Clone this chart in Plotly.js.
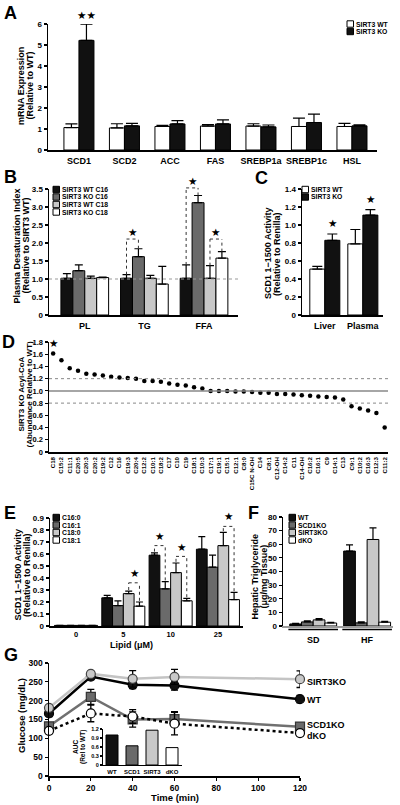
<!DOCTYPE html>
<html><head><meta charset="utf-8">
<script src="https://cdn.plot.ly/plotly-3.0.1.min.js"></script>
<style>body{margin:0;background:#fff}#chart{width:400px;height:805px}</style>
</head><body><div id="chart"></div>
<script>
// ---------- DATA ----------
// Panel A
const aGenes = ['SCD1','SCD2','ACC','FAS','SREBP1a','SREBP1c','HSL'];
const aWT    = [1.07,1.05,1.12,1.14,1.14,1.12,1.12];
const aWTerr = [0.17,0.20,0.05,0.07,0.11,0.40,0.15];
const aKO    = [5.22,1.15,1.24,1.24,1.10,1.31,1.15];
const aKOerr = [0.77,0.12,0.16,0.19,0.09,0.40,0.05];
const aTicks = [0,1,2,3,4,5,6];
const aTickText = ['0','1','2','3','4','5','6'];
// Panel B
const bLipids = ['PL','TG','FFA'];
const bWTC16 = [1.02,1.02,1.02], bWTC16err = [0.13,0.10,0.37];
const bKOC16 = [1.23,1.62,3.12], bKOC16err = [0.16,0.22,0.20];
const bWTC18 = [1.02,1.02,1.02], bWTC18err = [0.06,0.08,0.35];
const bKOC18 = [1.04,0.86,1.58], bKOC18err = [0.01,0.49,0.18];
const bTicks = [0,0.5,1,1.5,2,2.5,3,3.5];
const bTickText = ['0','0.5','1.0','1.5','2.0','2.5','3.0','3.5'];
// Panel C
const cTissue = ['Liver','Plasma'];
const cWT = [0.51,0.79], cWTerr = [0.03,0.16];
const cKO = [0.83,1.11], cKOerr = [0.07,0.06];
const cTicks = [0,0.2,0.4,0.6,0.8,1.0,1.2,1.4];
const cTickText = ['0','0.2','0.4','0.6','0.8','1.0','1.2','1.4'];
// Panel D
const dSpecies = ['C18','C15:2','C11:1','C20:5','C20:3','C20:2','C19:2','C12','C16','C19:3','C20:4','C12:2','C10:1','C18:2','C17','C10','C19','C18:1','C10:3','C17:1','C19:1','C15:1','C12:1','C8:0','C15C N-OH','C14','C8:1','C12-OH','C14:2','C11','C14-OH','C16:2','C16:1','C9','C14:1','C13','C9:1','C10:2','C16:3','C12:3','C11:2'];
const dRatio = [1.61,1.50,1.37,1.33,1.28,1.27,1.25,1.23,1.22,1.21,1.20,1.16,1.16,1.15,1.12,1.10,1.09,1.06,1.04,1.00,1.00,1.00,0.99,0.99,0.98,0.97,0.97,0.95,0.95,0.94,0.93,0.92,0.91,0.90,0.89,0.86,0.75,0.71,0.68,0.64,0.40];
const dTicks = [0,0.2,0.4,0.6,0.8,1.0,1.2,1.4,1.6,1.8];
const dTickText = ['0','0.2','0.4','0.6','0.8','1.0','1.2','1.4','1.6','1.8'];
// Panel E
const eLipid = ['0','5','10','25'];
const eC160 = [0.005,0.235,0.59,0.64], eC160err = [0,0.02,0.02,0.105];
const eC161 = [0.005,0.17,0.31,0.49],  eC161err = [0,0.04,0.06,0.10];
const eC180 = [0.005,0.27,0.445,0.67], eC180err = [0,0.02,0.08,0.11];
const eC181 = [0.005,0.165,0.21,0.22], eC181err = [0,0.035,0.02,0.06];
const eTicks = [0,0.1,0.2,0.3,0.4,0.5,0.6,0.7,0.8,0.9];
const eTickText = ['0','0.1','0.2','0.3','0.4','0.5','0.6','0.7','0.8','0.9'];
// Panel F
const fDiet = ['SD','HF'];
const fWT = [1.5,55],   fWTerr = [0.5,4.5];
const fSCD1 = [3.0,2.3], fSCD1err = [0.7,0.8];
const fSIRT3 = [4.5,63.5], fSIRT3err = [0.9,8.5];
const fDKO = [2.2,2.8], fDKOerr = [0.5,0.6];
const fTicks = [0,10,20,30,40,50,60,70,80];
// Panel G
const gTime = [0,20,40,60,120];
const gWT = [166,264,242,240,204],   gWTerr = [8,6,10,12,10];
const gSCD1 = [132,210,150,151,131], gSCD1err = [8,20,20,20,6];
const gSIRT3 = [181,271,258,263,257], gSIRT3err = [6,5,22,20,22];
const gDKO = [120,166,158,139,114],  gDKOerr = [6,22,18,30,6];
const gYTicks = [0,50,100,150,200,250,300];
const gXTicks = [0,20,40,60,80,100,120];
const aucGroups = ['WT','SCD1','SIRT3','dKO'];
const aucVals = [1.0,0.64,1.16,0.58];
const aucTicks = [0,0.3,0.6,0.9,1.2];
const aucTickText = ['0','0.3','0.6','0.9','1.2'];

// ---------- HELPERS ----------
const F = 'Liberation Sans, Arial, Helvetica, sans-serif';
const W = 400, H = 805;
const px = v => v / W, py = v => 1 - v / H;
const dom = (a, b) => [a / W, b / W];
const vdom = (top, bot) => [1 - bot / H, 1 - top / H];
const BLACK = '#111111', DGRAY = '#6a6a6a', LGRAY = '#c8c8c8', WHITE = '#ffffff';
const idx = arr => arr.map((_, k) => k);

// y-axis pixel frames (top, bottom) and value ranges
const YF = {
  y:  {top:24,  bot:150, r:[0,6]},
  y2: {top:189, bot:315, r:[0,3.5]},
  y3: {top:189, bot:315, r:[0,1.4]},
  y4: {top:342, bot:452, r:[0,1.8]},
  y5: {top:518, bot:626, r:[0,0.9]},
  y6: {top:517, bot:626, r:[0,80]},
  y7: {top:663, bot:776, r:[0,300]},
  y8: {top:729, bot:765, r:[0,1.2]}
};
const yp = (ya, v) => { const a = YF[ya]; return py(a.bot - (v - a.r[0]) / (a.r[1] - a.r[0]) * (a.bot - a.top)); };

const traces = [], shapes = [], annotations = [];

function bars(xa, ya, cats, y, err, i, n, groupW, color, capW) {
  const w = groupW / n;
  traces.push({type:'bar', xaxis:xa, yaxis:ya, x:idx(cats), y:y, width:w, offset:-groupW/2 + i*w,
    marker:{color:color, line:{color:'#000', width:1}},
    error_y:{type:'data', symmetric:false, array:err, arrayminus:err.map(() => 0), color:'#000', thickness:1.2, width:capW},
    showlegend:false, hoverinfo:'skip', cliponaxis:false});
}
function star(xa, ya, x, y, txt) {
  annotations.push({xref:xa, yref:'paper', x:x, y:yp(ya, y), text:txt || '★', showarrow:false,
    font:{family:'DejaVu Sans', size:10.5, color:'#000'}, yanchor:'middle', xanchor:'center', borderpad:0});
}
function bracket(xa, ya, k, i1, i2, n, groupW, y1, y2, yTop, starY) {
  const w = groupW / n;
  const c1 = k - groupW/2 + (i1 + 0.5)*w, c2 = k - groupW/2 + (i2 + 0.5)*w;
  const line = {color:'#333', width:1, dash:'dot'};
  shapes.push({type:'line', xref:xa, yref:'paper', x0:c1, x1:c1, y0:yp(ya,y1), y1:yp(ya,yTop), line});
  shapes.push({type:'line', xref:xa, yref:'paper', x0:c2, x1:c2, y0:yp(ya,y2), y1:yp(ya,yTop), line});
  shapes.push({type:'line', xref:xa, yref:'paper', x0:c1, x1:c2, y0:yp(ya,yTop), y1:yp(ya,yTop), line});
  star(xa, ya, (c1 + c2)/2, starY);
}
function legendBox(x, yc, color, label) {
  shapes.push({type:'rect', xref:'paper', yref:'paper', x0:px(x), x1:px(x+6.5), y0:py(yc+3.2), y1:py(yc-3.2),
    fillcolor:color, line:{color:'#000', width:1}});
  annotations.push({xref:'paper', yref:'paper', x:px(x+7.5), y:py(yc), xanchor:'left', yanchor:'middle',
    text:label, showarrow:false, borderpad:0, font:{family:F, size:6.8, weight:'bold', color:'#000'}});
}
function vline(xc, yc, text, size) {
  annotations.push({xref:'paper', yref:'paper', x:px(xc), y:py(yc), xanchor:'center', yanchor:'middle',
    textangle:-90, text:text, showarrow:false, borderpad:0, font:{family:F, size:size, weight:'bold', color:'#000'}});
}
function vtitle2(x1, x2, yc, t1, t2, size) { vline(x1, yc, t1, size); vline(x2, yc, t2, size); }
function htitle(xc, yc, text, size) {
  annotations.push({xref:'paper', yref:'paper', x:px(xc), y:py(yc), xanchor:'center', yanchor:'middle',
    text:text, showarrow:false, borderpad:0, font:{family:F, size:size, weight:'bold', color:'#000'}});
}
function letter(x, y, t) {
  annotations.push({xref:'paper', yref:'paper', x:px(x), y:py(y), xanchor:'left', yanchor:'middle',
    text:t, showarrow:false, borderpad:0, font:{family:F, size:18, weight:'bold', color:'#000'}});
}
const sum = (a, b) => a.map((v, k) => v + b[k]);

const axBase = {showline:true, linecolor:'#000', linewidth:1.5, ticks:'outside', ticklen:3, tickwidth:1.2,
  tickcolor:'#000', showgrid:false, zeroline:false, automargin:false, fixedrange:true,
  tickfont:{family:F, size:8, color:'#000', weight:'bold'}};
function yax(ya, anchor, tv, tt, fs) {
  const f = YF[ya];
  return Object.assign({}, axBase, {domain:vdom(f.top, f.bot), anchor, range:f.r, tickvals:tv, ticktext:tt || tv.map(String),
    tickfont:{family:F, size:fs || 8, color:'#000', weight:'bold'}});
}
function xax(domain, anchor, range, tv, fs) {
  return Object.assign({}, axBase, {domain, anchor, range, tickvals:tv, ticktext:tv.map(String),
    tickfont:{family:F, size:fs || 8, color:'#000', weight:'bold'}});
}
function xcat(domain, anchor, range, cats, fs) {
  return Object.assign({}, axBase, {domain, anchor, range, tickvals:idx(cats), ticktext:cats,
    ticks:'outside', ticklen:2, tickcolor:'rgba(0,0,0,0)', tickfont:{family:F, size:fs || 9, color:'#000', weight:'bold'}});
}

// ---------- PANEL A ----------
bars('x','y',aGenes,aWT,aWTerr,0,2,0.66,WHITE,6);
bars('x','y',aGenes,aKO,aKOerr,1,2,0.66,BLACK,6);
star('x','y',0.165,6.45,'★★');
legendBox(347,24,WHITE,'SIRT3 WT');
legendBox(347,31.5,BLACK,'SIRT3 KO');
vtitle2(21,29.5,86,'mRNA Expression','(Relative to WT)',9);
letter(3,13,'A');

// ---------- PANEL B ----------
const bGW = 0.8;
bars('x2','y2',bLipids,bWTC16,bWTC16err,0,4,bGW,BLACK,4);
bars('x2','y2',bLipids,bKOC16,bKOC16err,1,4,bGW,DGRAY,4);
bars('x2','y2',bLipids,bWTC18,bWTC18err,2,4,bGW,LGRAY,4);
bars('x2','y2',bLipids,bKOC18,bKOC18err,3,4,bGW,WHITE,4);
shapes.push({type:'line', xref:'x2 domain', yref:'y2', x0:0, x1:1, y0:1, y1:1, line:{color:'#999', width:1, dash:'dot'}});
const bT16w = sum(bWTC16,bWTC16err), bT16k = sum(bKOC16,bKOC16err), bT18w = sum(bWTC18,bWTC18err), bT18k = sum(bKOC18,bKOC18err);
bracket('x2','y2',1,0,1,4,bGW,bT16w[1],bT16k[1],2.11,2.3);
bracket('x2','y2',2,0,1,4,bGW,bT16w[2],bT16k[2],3.53,3.72);
bracket('x2','y2',2,2,3,4,bGW,bT18w[2],bT18k[2],2.11,2.3);
legendBox(53,189.5,BLACK,'SIRT3 WT C16');
legendBox(53,197,DGRAY,'SIRT3 KO C16');
legendBox(53,204.5,LGRAY,'SIRT3 WT C18');
legendBox(53,212,WHITE,'SIRT3 KO C18');
vtitle2(16.5,25.5,246,'Plasma Desaturation Index','(Relative to SIRT3 WT)',9);
letter(3,177,'B');

// ---------- PANEL C ----------
bars('x3','y3',cTissue,cWT,cWTerr,0,2,0.79,WHITE,5);
bars('x3','y3',cTissue,cKO,cKOerr,1,2,0.79,BLACK,5);
const cTop = sum(cKO,cKOerr);
star('x3','y3',0.1975,cTop[0]+0.12);
star('x3','y3',1.1975,cTop[1]+0.12);
legendBox(302,189.5,WHITE,'SIRT3 WT');
legendBox(302,197,BLACK,'SIRT3 KO');
vtitle2(268,277,254,'SCD1 1−1500 Activity','(Relative to Renilla)',9);
letter(254,178,'C');

// ---------- PANEL D ----------
shapes.push({type:'line', xref:'x4 domain', yref:'y4', x0:0, x1:1, y0:1.2, y1:1.2, line:{color:'#888', width:1, dash:'dot'}});
shapes.push({type:'line', xref:'x4 domain', yref:'y4', x0:0, x1:1, y0:0.8, y1:0.8, line:{color:'#888', width:1, dash:'dot'}});
shapes.push({type:'line', xref:'x4 domain', yref:'y4', x0:0, x1:1, y0:1.0, y1:1.0, line:{color:'#888', width:1.5}});
traces.push({type:'scatter', mode:'markers', xaxis:'x4', yaxis:'y4', x:idx(dSpecies), y:dRatio,
  marker:{color:'#000', size:4.5}, showlegend:false, hoverinfo:'skip', cliponaxis:false});
star('x4','y4',0,dRatio[0]+0.17);
vtitle2(20.5,28.5,394,'SIRT3 KO Acyl-CoA','(Abundance Relative to WT)',8);
letter(1,342,'D');

// ---------- PANEL E ----------
const eGW = 0.91;
bars('x5','y5',eLipid,eC160,eC160err,0,4,eGW,BLACK,3.5);
bars('x5','y5',eLipid,eC161,eC161err,1,4,eGW,DGRAY,3.5);
bars('x5','y5',eLipid,eC180,eC180err,2,4,eGW,LGRAY,3.5);
bars('x5','y5',eLipid,eC181,eC181err,3,4,eGW,WHITE,3.5);
const e0 = sum(eC160,eC160err), e1 = sum(eC161,eC161err), e2 = sum(eC180,eC180err), e3 = sum(eC181,eC181err);
bracket('x5','y5',1,2,3,4,eGW,e2[1]+0.01,e3[1]+0.01,0.36,0.44);
bracket('x5','y5',2,0,1,4,eGW,e0[2]+0.01,e1[2]+0.01,0.67,0.75);
bracket('x5','y5',2,2,3,4,eGW,e2[2]+0.01,e3[2]+0.01,0.58,0.66);
bracket('x5','y5',3,2,3,4,eGW,e2[3]+0.01,e3[3]+0.01,0.83,0.92);
legendBox(53,517.5,BLACK,'C16:0');
legendBox(53,525,DGRAY,'C16:1');
legendBox(53,532.5,LGRAY,'C18:0');
legendBox(53,540,WHITE,'C18:1');
vtitle2(17.5,27,575,'SCD1 1−1500 Activity','(Relative to Renilla)',9);
htitle(131,645,'Lipid (μM)',9);
letter(3,513,'E');

// ---------- PANEL F ----------
const fGW = 0.87;
bars('x6','y6',fDiet,fWT,fWTerr,0,4,fGW,BLACK,3.5);
bars('x6','y6',fDiet,fSCD1,fSCD1err,1,4,fGW,DGRAY,3.5);
bars('x6','y6',fDiet,fSIRT3,fSIRT3err,2,4,fGW,LGRAY,3.5);
bars('x6','y6',fDiet,fDKO,fDKOerr,3,4,fGW,WHITE,3.5);
fDiet.forEach((d,k) => shapes.push({type:'line', xref:'x6', yref:'paper', x0:k-0.46, x1:k+0.46, y0:py(629.5), y1:py(629.5), line:{color:'#000', width:1.6}}));
legendBox(289,517.5,BLACK,'WT');
legendBox(289,525,DGRAY,'SCD1KO');
legendBox(289,532.5,LGRAY,'SIRT3KO');
legendBox(289,540,WHITE,'dKO');
vtitle2(254.5,263.5,577,'Hepatic Triglyceride','(μg/mg Tissue)',9);
letter(247,513,'F');

// ---------- PANEL G ----------
function gLine(y, err, lineColor, dash, symbol, fill, mline) {
  traces.push({type:'scatter', mode:'lines+markers', xaxis:'x7', yaxis:'y7', x:gTime, y:y,
    line:{color:lineColor, width:2.5, dash:dash},
    marker:{symbol:symbol, size:9, color:fill, line:{color:mline, width:1.2}},
    error_y:{type:'data', array:err, color:'#000', thickness:1.3, width:3.5},
    cliponaxis:false, showlegend:false, hoverinfo:'skip'});
}
gLine(gSCD1,gSCD1err,'#707070','solid','square','#6a6a6a','#333');
gLine(gDKO,gDKOerr,'#000','dot','circle','#fff','#000');
gLine(gWT,gWTerr,'#000','solid','circle','#111','#000');
gLine(gSIRT3,gSIRT3err,'#c4c4c4','solid','circle','#c8c8c8','#444');
const gLab = (yc, t) => annotations.push({xref:'paper', yref:'paper', x:px(306), y:py(yc), xanchor:'left', yanchor:'middle',
  text:t, showarrow:false, borderpad:0, font:{family:F, size:9, weight:'bold', color:'#000'}});
gLab(682,'SIRT3KO'); gLab(700,'WT'); gLab(725,'SCD1KO'); gLab(736,'dKO');
vline(21,716,'Glucose (mg/dL)',9.5);
htitle(175,797,'Time (min)',9.5);
letter(3,655,'G');
// inset AUC
traces.push({type:'bar', xaxis:'x8', yaxis:'y8', x:idx(aucGroups), y:aucVals, width:0.6,
  marker:{color:[BLACK,DGRAY,LGRAY,WHITE], line:{color:'#000', width:1}}, showlegend:false, hoverinfo:'skip'});
vtitle2(75,83,747,'AUC','(Rel to WT)',6.5);

// ---------- LAYOUT ----------
const layout = {
  width:W, height:H, margin:{l:0,r:0,t:0,b:0}, paper_bgcolor:'#fff', plot_bgcolor:'rgba(0,0,0,0)',
  barmode:'overlay', showlegend:false, font:{family:F, color:'#000'},
  xaxis: xcat(dom(48,377),'y',[-0.68,6.55],aGenes,9),
  yaxis: yax('y','x',aTicks,aTickText,8),
  xaxis2: xcat(dom(49,238),'y2',[-0.6,2.57],bLipids,9),
  yaxis2: yax('y2','x2',bTicks,bTickText,8),
  xaxis3: xcat(dom(302,383),'y3',[-0.6,1.53],cTissue,9),
  yaxis3: yax('y3','x3',cTicks,cTickText,8),
  xaxis4: Object.assign(xcat(dom(49,388),'y4',[-0.5,40.4],dSpecies,6.2),{tickangle:-90, ticklen:1}),
  yaxis4: yax('y4','x4',dTicks,dTickText,7.5),
  xaxis5: Object.assign(xcat(dom(50,243),'y5',[-0.55,3.53],eLipid,7.5),{ticklen:0}),
  yaxis5: yax('y5','x5',eTicks,eTickText,8),
  xaxis6: Object.assign(xcat(dom(283,393),'y6',[-0.56,1.48],fDiet,9),{linecolor:'#9a9a9a', linewidth:2, ticklen:4}),
  yaxis6: yax('y6','x6',fTicks,null,8),
  xaxis7: xax(dom(49,300),'y7',[0,120],gXTicks,8.5),
  yaxis7: yax('y7','x7',gYTicks,null,8.5),
  xaxis8: Object.assign(xcat(dom(103,182),'y8',[-0.45,3.5],aucGroups,6),{linewidth:1, ticklen:1}),
  yaxis8: Object.assign(yax('y8','x8',aucTicks,aucTickText,5.5),{linewidth:1, ticklen:2}),
  shapes, annotations
};
Plotly.newPlot('chart', traces, layout, {staticPlot:true, displayModeBar:false});
</script>
</body></html>
